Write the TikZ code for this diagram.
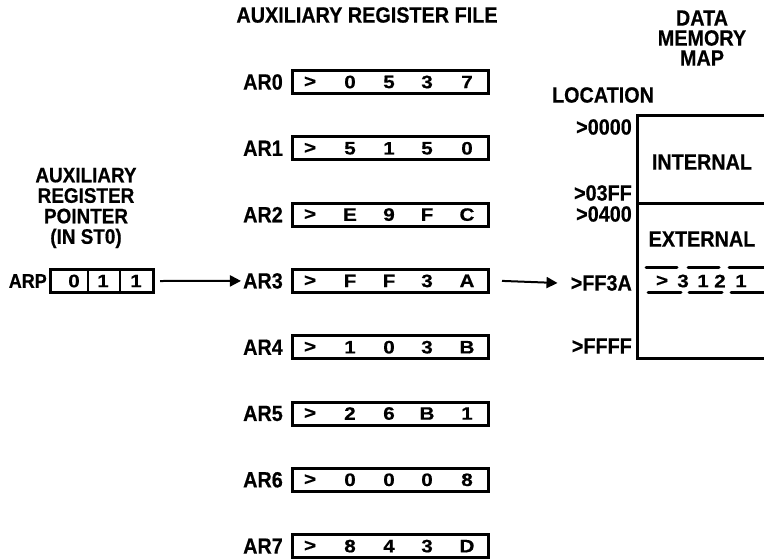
\documentclass[tikz,border=0pt]{standalone}
\usepackage{fontspec}
\setmainfont{Liberation Sans}
\newfontfamily\labf{Liberation Sans}[BoldFeatures={FakeBold=0.5,FakeStretch=0.9}]
\newfontfamily\digf{Liberation Sans}[BoldFeatures={FakeBold=0.5,FakeStretch=1.15}]
\usetikzlibrary{arrows.meta}
\begin{document}
\begin{tikzpicture}[x=1pt,y=-1pt,
  lab/.style={font=\labf\fontsize{22}{20}\selectfont\bfseries, inner sep=0pt},
  plab/.style={font=\labf\fontsize{21}{20.5}\selectfont\bfseries, inner sep=0pt, align=center},
  dig/.style={font=\digf\fontsize{18}{18}\selectfont\bfseries, inner sep=0pt},
  regbox/.style={draw, line width=3pt, minimum width=196pt, minimum height=23pt, inner sep=0pt},
  arr/.style={line width=2pt, -{Triangle[length=11pt,width=11pt]}},
  heavy/.style={line width=3pt},
  dsh/.style={line width=3pt, line cap=round},
]
\useasboundingbox (0,0) rectangle (764,560);

% title
\node[lab] (title) at (367,15) {AUXILIARY REGISTER FILE};

% register file
\foreach \i/\a/\b/\c/\d in {0/0/5/3/7, 1/5/1/5/0, 2/E/9/F/C, 3/F/F/3/A, 4/1/0/3/B, 5/2/6/B/1, 6/0/0/0/8, 7/8/4/3/D} {
  \pgfmathsetmacro\yy{82+66.3*\i}
  \node[lab, anchor=east] (lab\i) at (283,\yy) {AR\i};
  \node[regbox] (r\i) at (390.5,\yy) {};
  \node[dig] (r\i-p) at (310,\yy) {>};
  \node[dig] (r\i-a) at (350,\yy) {\a};
  \node[dig] (r\i-b) at (389,\yy) {\b};
  \node[dig] (r\i-c) at (427,\yy) {\c};
  \node[dig] (r\i-d) at (467,\yy) {\d};
}

% auxiliary register pointer
\node[plab] (ptr) at (86,208) {AUXILIARY\\REGISTER\\POINTER\\(IN ST0)};
\node[lab, anchor=east, font=\labf\fontsize{20}{20}\selectfont\bfseries] (arp) at (47,281) {ARP};
\node[draw, heavy, minimum width=103pt, minimum height=23pt, inner sep=0pt] (arpbox) at (102,281) {};
\draw[line width=2.5pt] (88,269.5) -- (88,292.5);
\draw[line width=2.5pt] (120,269.5) -- (120,292.5);
\node[dig] (arp-a) at (74,281) {0};
\node[dig] (arp-b) at (103,281) {1};
\node[dig] (arp-c) at (136,281) {1};
\draw[arr] ([xshift=5pt]arpbox.east) -- ([xshift=-2pt]lab3.west);

% data memory map
\node[lab, align=center] (dmm) at (702,38) {DATA\\MEMORY\\MAP};
\node[lab] (loc) at (603,95) {LOCATION};
\draw[heavy] (768,115) -- (637,115) -- (637,358) -- (768,358);
\draw[heavy] (637,203) -- (768,203);
\node[lab, anchor=east] (m0000) at (632,127) {>0000};
\node[lab, anchor=east] (m03ff) at (632,193) {>03FF};
\node[lab, anchor=east] (m0400) at (632,214) {>0400};
\node[lab, anchor=east] (mff3a) at (632,283) {>FF3A};
\node[lab, anchor=east] (mffff) at (632,346) {>FFFF};
\node[lab] (int) at (702,162) {INTERNAL};
\node[lab] (ext) at (702,239) {EXTERNAL};
\draw[arr] ([xshift=12pt]r3.east) -- ([xshift=-13pt]mff3a.west);

% memory cell contents
\draw[dsh] (646,267) -- (677,267);
\draw[dsh] (688,267) -- (719,267);
\draw[dsh] (729,267) -- (766,267);
\draw[dsh] (648,292) -- (681,292);
\draw[dsh] (689,292) -- (722,292);
\draw[dsh] (731,292) -- (766,292);
\node[dig] (c-p) at (662,281) {>};
\node[dig] (c-a) at (683,281) {3};
\node[dig] (c-b) at (703,281) {1};
\node[dig] (c-c) at (720,281) {2};
\node[dig] (c-d) at (741,281) {1};
\end{tikzpicture}
\end{document}
